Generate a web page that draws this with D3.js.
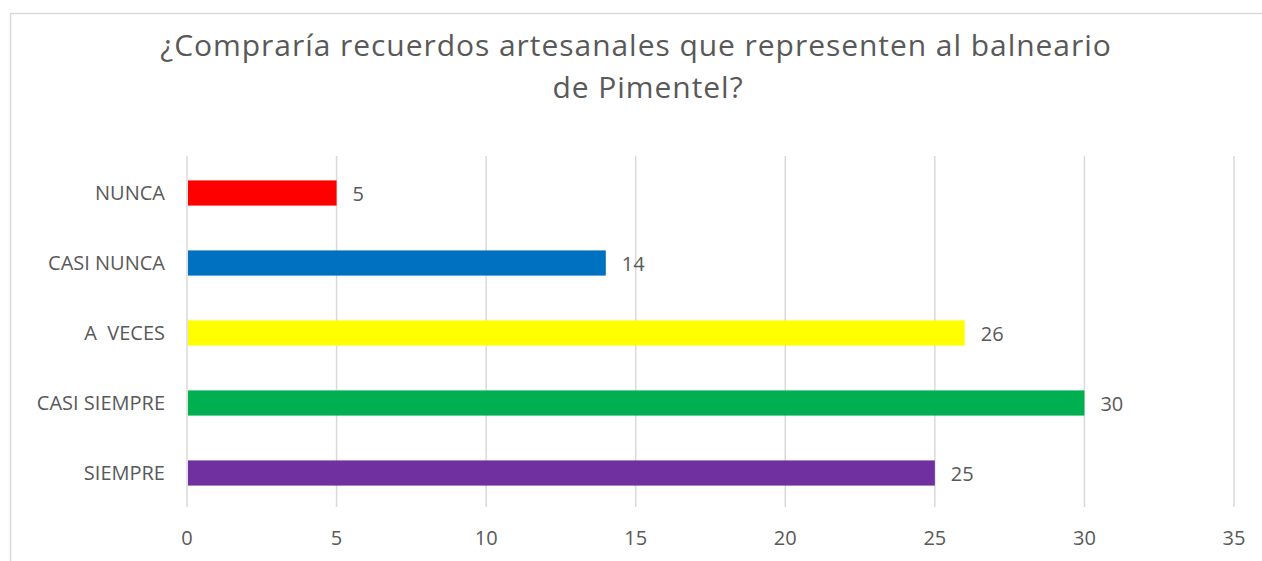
<!DOCTYPE html>
<html>
<head>
<meta charset="utf-8">
<script src="https://cdn.jsdelivr.net/npm/d3@7"></script>
<style>
  body { margin: 0; background: #fff; }
  text { font-family: "Open Sans", sans-serif; fill: #595959; }
</style>
</head>
<body>
<div id="chart"></div>
<script>
// >-----------------< Data >-------------------<
const categories = ["NUNCA", "CASI NUNCA", "A  VECES", "CASI SIEMPRE", "SIEMPRE"];
const values = [5, 14, 26, 30, 25];
const barColors = ["#FF0000", "#0070C0", "#FFFF00", "#00B050", "#7030A0"];
const xTicks = [0, 5, 10, 15, 20, 25, 30, 35];
const titleLines = ["¿Compraría recuerdos artesanales que representen al balneario", "de Pimentel?"];

// >-----------------< Chart >-------------------<
const width = 1262, height = 561;
const plot = { left: 187, right: 1234, top: 156, bottom: 507 };

const svg = d3.select("#chart").append("svg")
  .attr("width", width)
  .attr("height", height);

// chart area border
svg.append("rect")
  .attr("x", 10.5).attr("y", 13.5)
  .attr("width", width + 20).attr("height", height + 20)
  .attr("fill", "none")
  .attr("stroke", "#d9d9d9")
  .attr("stroke-width", 1.5);

// title, two lines
svg.append("text")
  .attr("x", 636).attr("y", 56)
  .attr("text-anchor", "middle")
  .attr("font-size", "30px")
  .attr("letter-spacing", "0.95px")
  .text(titleLines[0]);
svg.append("text")
  .attr("x", 648).attr("y", 98)
  .attr("text-anchor", "middle")
  .attr("font-size", "30px")
  .attr("letter-spacing", "0.95px")
  .text(titleLines[1]);

const x = d3.scaleLinear()
  .domain([0, 35])
  .range([plot.left, plot.right]);

const y = d3.scaleBand()
  .domain(categories)
  .range([plot.top + 2, plot.bottom + 1])
  .paddingInner(0.64)
  .paddingOuter(0.32);

// gridlines
svg.append("g")
  .selectAll("line")
  .data(xTicks)
  .enter().append("line")
  .attr("x1", d => x(d)).attr("x2", d => x(d))
  .attr("y1", plot.top).attr("y2", plot.bottom)
  .attr("stroke", "#d9d9d9")
  .attr("stroke-width", 1.5);

// x tick labels
svg.append("g")
  .selectAll("text")
  .data(xTicks)
  .enter().append("text")
  .attr("x", d => x(d))
  .attr("y", 545)
  .attr("text-anchor", "middle")
  .attr("font-size", "20px")
  .text(d => d);

// bars
svg.append("g")
  .selectAll("rect")
  .data(categories)
  .enter().append("rect")
  .attr("x", x(0) + 1)
  .attr("y", d => y(d))
  .attr("width", (d, i) => x(values[i]) - x(0) - 1)
  .attr("height", y.bandwidth())
  .attr("fill", (d, i) => barColors[i]);

// category labels
svg.append("g")
  .selectAll("text")
  .data(categories)
  .enter().append("text")
  .attr("x", 165)
  .attr("y", d => y(d) + y.bandwidth() / 2)
  .attr("dy", "0.36em")
  .attr("text-anchor", "end")
  .attr("font-size", "20px")
  .attr("xml:space", "preserve")
  .text(d => d);

// value labels
svg.append("g")
  .selectAll("text")
  .data(categories)
  .enter().append("text")
  .attr("x", (d, i) => x(values[i]) + 16)
  .attr("y", d => y(d) + y.bandwidth() / 2)
  .attr("dy", "0.42em")
  .attr("font-size", "20px")
  .text((d, i) => values[i]);
</script>
</body>
</html>
